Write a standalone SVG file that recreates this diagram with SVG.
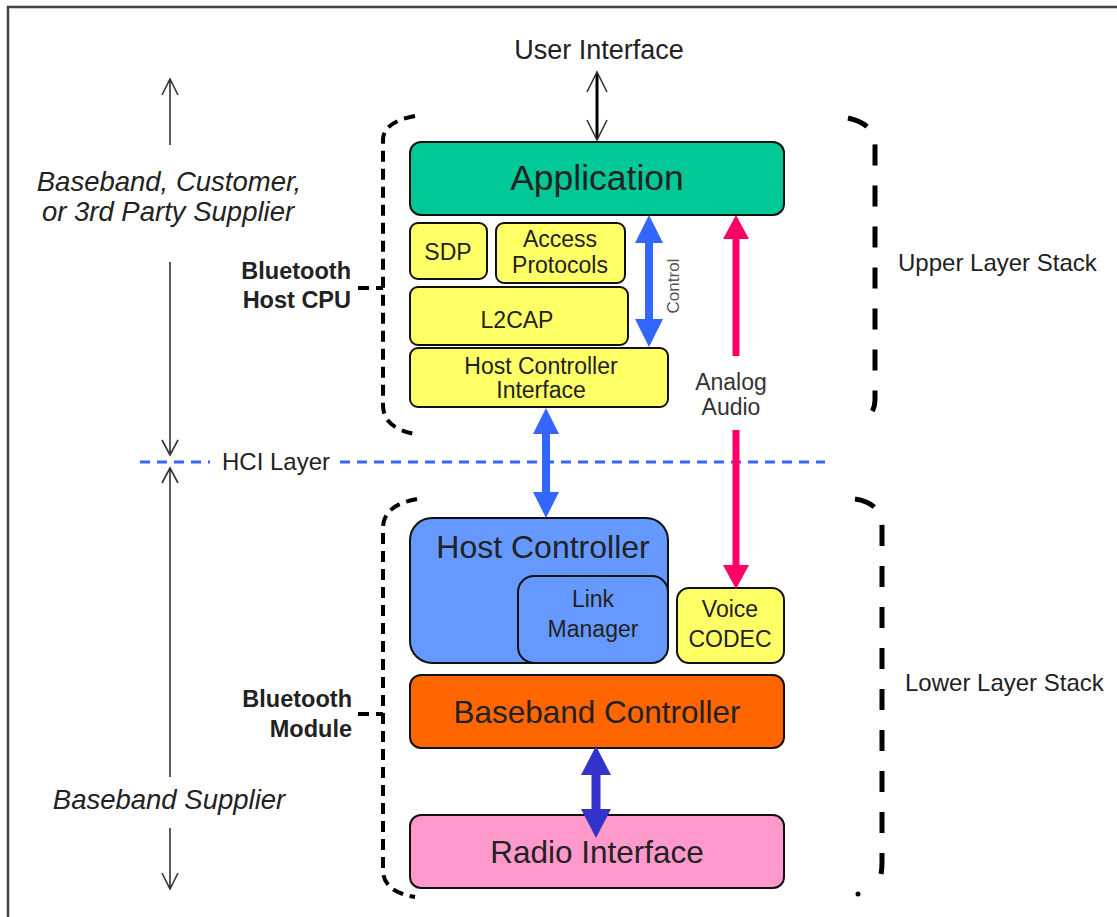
<svg xmlns="http://www.w3.org/2000/svg" width="1117" height="917" viewBox="0 0 1117 917">
<style>
text{font-family:"Liberation Sans",Arial,sans-serif;fill:#222}
.box{stroke:#111;stroke-width:2}
.c{text-anchor:middle}
.y{fill:#ffff66}
.lbl{font-size:23px}
.side{font-size:24px}
.it{font-style:italic;font-size:27.5px;text-anchor:middle}
.bold{font-weight:bold;font-size:23.5px;text-anchor:end}
.brL{fill:none;stroke:#000;stroke-width:4;stroke-dasharray:11 7}
.brR{fill:none;stroke:#000;stroke-width:5;stroke-dasharray:21 20}
.thin{fill:none;stroke:#333;stroke-width:1.6}
</style>
<rect width="1117" height="917" fill="#fff"/>
<g id="frame"><path d="M8 917 V7 H1117" fill="none" stroke="#444" stroke-width="2.5"/></g>

<g id="brackets">
<path class="brL" d="M415 116 Q383 122 383 140 V405 Q383 428 415 434"/>
<path class="brL" d="M358 288 H383"/>
<path class="brR" d="M848 118 Q875 124 875 145 V400 Q875 412 865 420"/>
<path class="brL" d="M417 499 Q383 505 383 528 V870 Q383 892 415 897"/>
<path class="brL" d="M358 714 H383"/>
<path class="brR" d="M855 499 Q882 503 882 527 V862 Q882 878 877 885"/>
<circle cx="858" cy="894" r="2.5" fill="#000"/>
</g>

<g id="side-labels">
<text class="it" x="169" y="191">Baseband, Customer,</text>
<text class="it" x="168" y="221">or 3rd Party Supplier</text>
<text class="it" x="169" y="809">Baseband Supplier</text>
<text class="bold" x="351" y="279">Bluetooth</text>
<text class="bold" x="351" y="308">Host CPU</text>
<text class="bold" x="352" y="707">Bluetooth</text>
<text class="bold" x="352" y="737">Module</text>
<text class="side" x="898" y="271">Upper Layer Stack</text>
<text class="side" x="905" y="691">Lower Layer Stack</text>
<text class="c" x="599" y="59" style="font-size:27px">User Interface</text>
<text class="side" x="222" y="470">HCI Layer</text>
</g>

<g id="node-application">
<rect class="box" x="410" y="142" width="374" height="73" rx="11" fill="#00c896"/>
<text class="c" x="597" y="190" font-size="35.5">Application</text>
</g>
<g id="node-sdp">
<rect class="box y" x="410" y="223" width="77" height="56" rx="8"/>
<text class="c lbl" x="448" y="260">SDP</text>
</g>
<g id="node-access">
<rect class="box y" x="496" y="223" width="129" height="60" rx="8"/>
<text class="c lbl" x="560" y="247">Access</text>
<text class="c lbl" x="560" y="273">Protocols</text>
</g>
<g id="node-l2cap">
<rect class="box y" x="410" y="287" width="218" height="58" rx="8"/>
<text class="c lbl" x="517" y="328">L2CAP</text>
</g>
<g id="node-hci">
<rect class="box y" x="410" y="348" width="258" height="59" rx="8"/>
<text class="c lbl" x="541" y="374">Host Controller</text>
<text class="c lbl" x="541" y="398">Interface</text>
</g>
<g id="node-host-controller">
<rect class="box" x="410" y="518" width="258" height="145" rx="22" fill="#6699ff"/>
<text class="c" x="543" y="558" font-size="32">Host Controller</text>
</g>
<g id="node-link-manager">
<rect class="box" x="518" y="576" width="150" height="87" rx="16" fill="#6699ff"/>
<text class="c lbl" x="593" y="607">Link</text>
<text class="c lbl" x="593" y="637">Manager</text>
</g>
<g id="node-voice-codec">
<rect class="box y" x="677" y="588" width="107" height="75" rx="12"/>
<text class="c lbl" x="730" y="617">Voice</text>
<text class="c lbl" x="730" y="647">CODEC</text>
</g>
<g id="node-baseband">
<rect class="box" x="410" y="675" width="374" height="73" rx="11" fill="#ff6600"/>
<text class="c" x="597" y="723" font-size="31.5">Baseband Controller</text>
</g>
<g id="node-radio">
<rect class="box" x="410" y="815" width="374" height="73" rx="11" fill="#ff99cc"/>
<text class="c" x="597" y="863" font-size="31.5">Radio Interface</text>
</g>

<g id="connectors">
<path d="M140 462 H210 M340 462 H825" stroke="#3366ff" stroke-width="3" stroke-dasharray="10 7" fill="none"/>
<path class="thin" d="M170 79 V145 M162 95 L170 79 L178 95"/>
<path class="thin" d="M170 262 V455 M162 440 L170 455 L178 440"/>
<path class="thin" d="M170 468 V777 M162 483 L170 468 L178 483"/>
<path class="thin" d="M170 828 V889 M162 873 L170 889 L178 873"/>
<path d="M597 74 V138" stroke="#000" stroke-width="3" fill="none"/>
<path d="M587 92 L597 72 L607 92 M587 120 L597 140 L607 120" stroke="#333" stroke-width="1.6" fill="none"/>
<path d="M649 240 V322" stroke="#3366ff" stroke-width="8"/>
<path d="M649 215 L663 243 L635 243 Z M649 347 L663 319 L635 319 Z" fill="#3366ff"/>
<text x="0" y="0" transform="translate(679 286) rotate(-90)" text-anchor="middle" font-size="17" style="fill:#555">Control</text>
<path d="M736 236 V356 M736 430 V568" stroke="#ff0066" stroke-width="7"/>
<path d="M736 215 L749 239 L723 239 Z M736 589 L749 565 L723 565 Z" fill="#ff0066"/>
<text class="c lbl" x="731" y="390" style="fill:#333">Analog</text>
<text class="c lbl" x="731" y="415" style="fill:#333">Audio</text>
<path d="M546 432 V493" stroke="#3366ff" stroke-width="8"/>
<path d="M546 408 L559 434 L533 434 Z M546 518 L559 492 L533 492 Z" fill="#3366ff"/>
<path d="M596 772 V812" stroke="#3333cc" stroke-width="9"/>
<path d="M596 746 L611 775 L581 775 Z M596 838 L611 809 L581 809 Z" fill="#3333cc"/>
</g>
</svg>
